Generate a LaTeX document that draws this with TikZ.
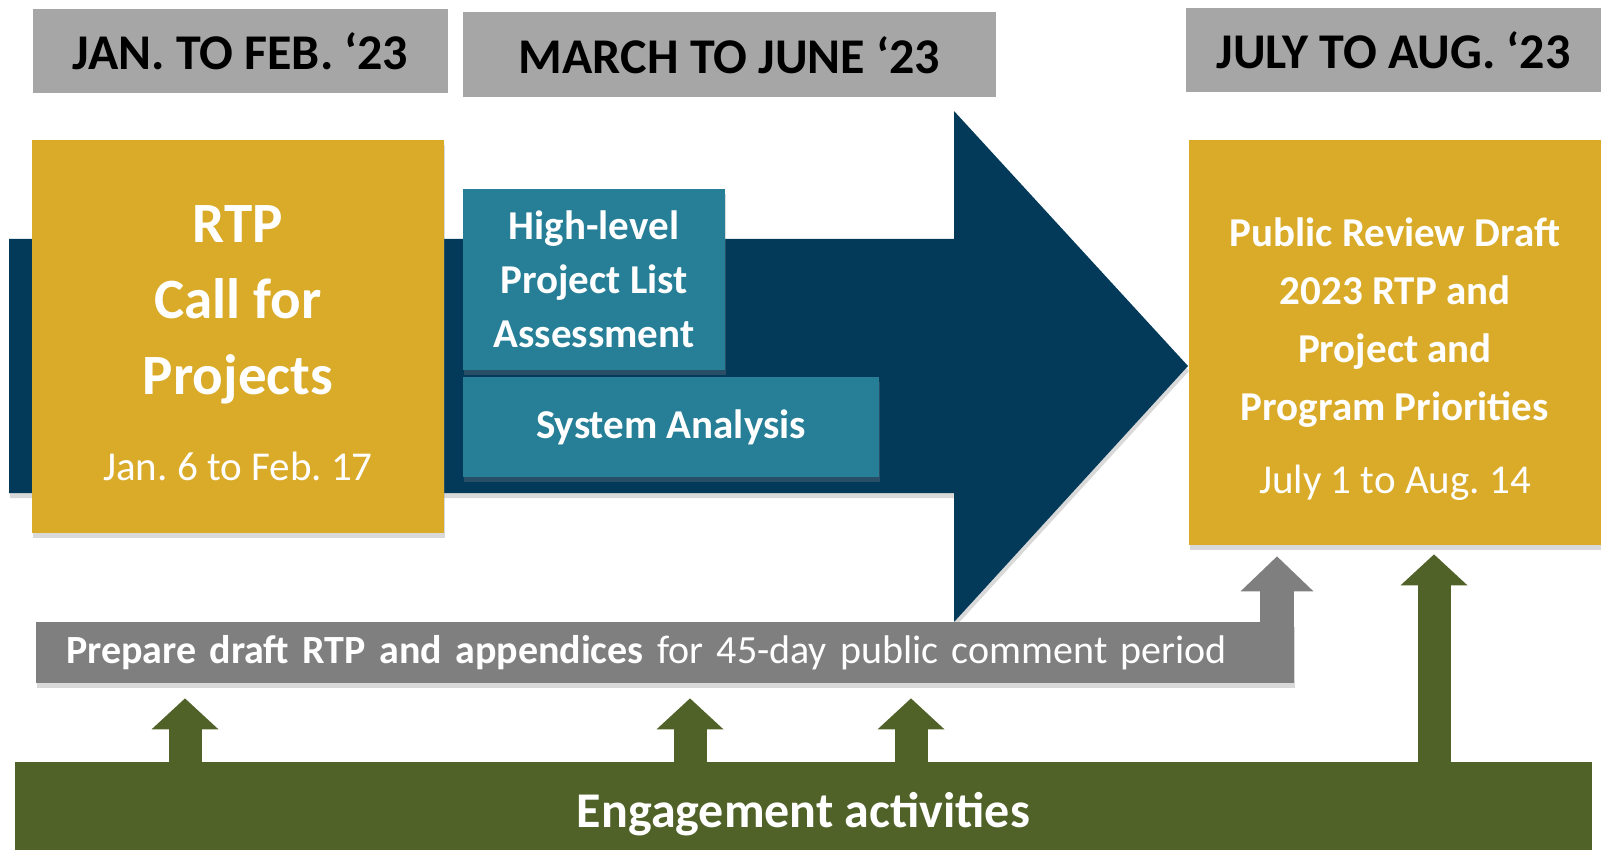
\documentclass[tikz,border=0pt]{standalone}
\usepackage{fontspec}
\setmainfont{Carlito}
\frenchspacing
\usetikzlibrary{arrows.meta,shadows}
\definecolor{hdrgray}{RGB}{166,166,166}
\definecolor{gold}{RGB}{218,171,41}
\definecolor{navy}{RGB}{3,58,90}
\definecolor{tealfill}{RGB}{38,127,150}
\definecolor{bargray}{RGB}{127,127,127}
\definecolor{olive}{RGB}{80,98,40}
\tikzset{>=Triangle}
\tikzset{
  soft/.style={drop shadow={shadow xshift=0.5pt,shadow yshift=-2.5pt,opacity=0.3}},
  hdr/.style={fill=hdrgray,text=black,inner sep=0pt,text height=19pt,text depth=0pt,
    font=\fontsize{25}{30}\selectfont\bfseries},
  goldbox/.style={fill=gold,soft,inner sep=0pt},
  goldtitle/.style={text=white,align=center,inner sep=0pt},
  golddate/.style={text=white,inner sep=0pt,font=\fontsize{20.5}{24}\selectfont},
  tealnode/.style={fill=tealfill,soft,text=white,align=center,inner sep=0pt,
    font=\fontsize{20.5}{27}\selectfont\bfseries},
  upgreen/.style={draw=olive,line width=16.5pt,
    -{Triangle[width=33.5pt,length=15.5pt,line width=0pt]}},
  upgray/.style={draw=bargray,line width=17pt,
    -{Triangle[width=36.5pt,length=17.5pt,line width=0pt]}}
}
\begin{document}
\begin{tikzpicture}[x=0.5pt,y=-0.5pt]
\useasboundingbox (0,0) rectangle (1601,850);
% periods
\node[hdr,minimum width=207.5pt,minimum height=42pt] (jan) at (240.5,51) {JAN. TO FEB. ‘23};
\node[hdr,minimum width=266.5pt,minimum height=42.5pt] (mar) at (729.5,54.5) {MARCH TO JUNE ‘23};
\node[hdr,minimum width=207.5pt,minimum height=42pt] (jul) at (1393.5,50) {JULY TO AUG. ‘23};
% big arrow
\fill[navy,soft] (9,239) -- (954,239) -- (954,111) -- (1188,366) -- (954,622) -- (954,493) -- (9,493) -- cycle;
% call for projects
\node[goldbox,minimum width=206pt,minimum height=196.5pt] (call) at (238,336.5) {};
\node[goldtitle,font=\fontsize{28.5}{38}\selectfont\bfseries] (calltitle) at (238,305) {RTP\\Call for\\Projects};
\node[golddate] (calldate) at (238,466) {Jan. 6 to Feb. 17};
% analysis
\node[tealnode,minimum width=131pt,minimum height=90.5pt] (hlpa) at (594,279.5) {High-level\\Project List\\Assessment};
\node[tealnode,minimum width=208pt,minimum height=50pt] (sysan) at (671,427) {System Analysis};
% public review draft
\node[goldbox,minimum width=206pt,minimum height=202.5pt] (draft) at (1395,342.5) {};
\node[goldtitle,font=\fontsize{20.5}{29}\selectfont\bfseries] (drafttitle) at (1395,322.5)
  {Public Review Draft\\2023 RTP and\\Project and\\Program Priorities};
\node[golddate] (draftdate) at (1395,483) {July 1 to Aug. 14};
% bars
\node[fill=bargray,soft,text=white,inner xsep=15pt,inner ysep=0pt,text width=599pt,align=left,
  minimum height=30.5pt,font=\fontsize{20}{24}\selectfont] (prep) at (665,652.5)
  {\textbf{Prepare draft RTP and appendices} for 45-day public comment period};
\node[fill=olive,text=white,inner sep=0pt,minimum width=788.5pt,minimum height=44pt,
  text height=21pt,text depth=0pt,font=\fontsize{25}{30}\selectfont\bfseries] (eng) at (803.5,806)
  {Engagement activities};
% block arrows
\coordinate (a1) at (185,770);
\coordinate (a2) at (690,770);
\coordinate (a3) at (911,770);
\coordinate (a4) at (1434,770);
\coordinate (g1) at (1277,660);
\draw[upgreen,shorten >=7.5pt] (a1) -- (a1 |- prep.south);
\draw[upgreen,shorten >=7.5pt] (a2) -- (a2 |- prep.south);
\draw[upgreen,shorten >=7.5pt] (a3) -- (a3 |- prep.south);
\draw[upgreen,shorten >=4.5pt] (a4) -- (a4 |- draft.south);
\draw[upgray,shorten >=5.5pt] (g1) -- (g1 |- draft.south);
\end{tikzpicture}
\end{document}
